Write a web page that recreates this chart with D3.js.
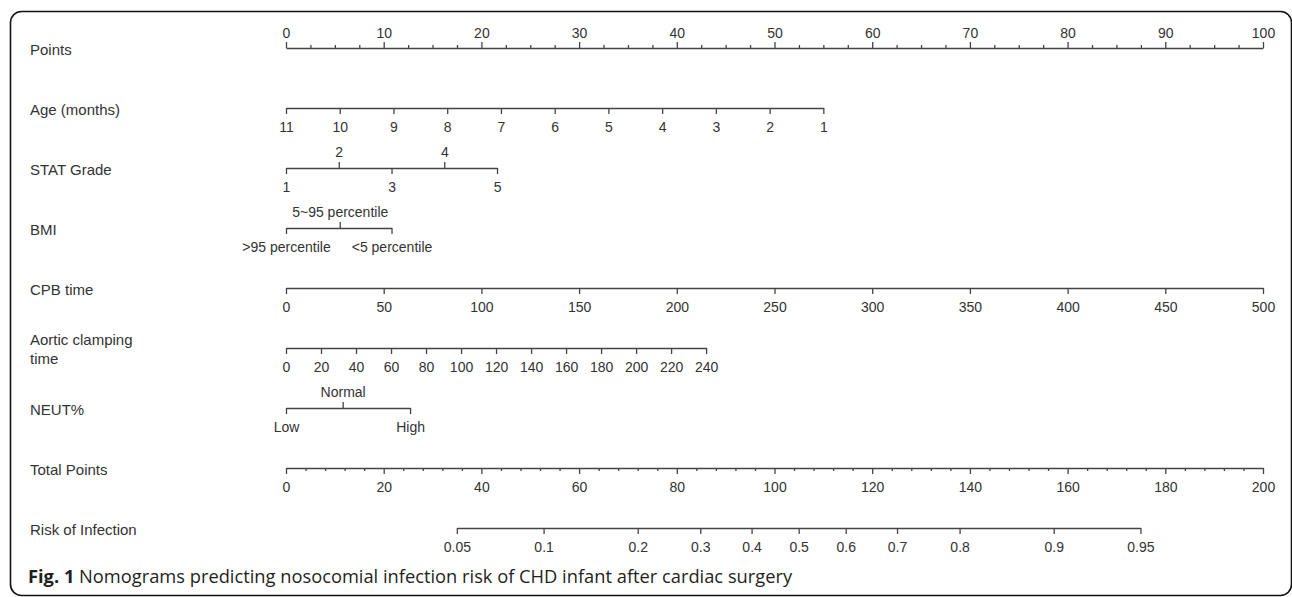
<!DOCTYPE html>
<html lang="en">
<head>
  <meta charset="UTF-8">
  <title>Nomogram</title>
  <style>
    body { margin: 0; background: #fff; }
    .row-label { font-family: 'Liberation Sans', Arial, sans-serif; font-size: 15px; fill: #333; }
    .caption { font-family: 'Open Sans', sans-serif; font-size: 18.3px; fill: #231f20; }
  </style>
</head>
<body>
  <svg width="1292" height="597"></svg>
  <script src="https://cdn.jsdelivr.net/npm/d3@7/dist/d3.min.js"></script>
  <script>
    // values
    var pointsTicks = [0, 10, 20, 30, 40, 50, 60, 70, 80, 90, 100]
    var pointsMinor = [2.5, 5, 7.5, 12.5, 15, 17.5, 22.5, 25, 27.5, 32.5, 35, 37.5, 42.5, 45, 47.5,
      52.5, 55, 57.5, 62.5, 65, 67.5, 72.5, 75, 77.5, 82.5, 85, 87.5, 92.5, 95, 97.5]
    var ageTicks = [11, 10, 9, 8, 7, 6, 5, 4, 3, 2, 1]
    var agePoints = [0, 55]
    var statTicks = [1, 2, 3, 4, 5]
    var statPoints = [0, 21.6]
    var bmiLabels = ['>95 percentile', '5~95 percentile', '<5 percentile']
    var bmiPoints = [0, 5.5, 10.8]
    var cpbTicks = [0, 50, 100, 150, 200, 250, 300, 350, 400, 450, 500]
    var cpbPoints = [0, 100]
    var aorticTicks = [0, 20, 40, 60, 80, 100, 120, 140, 160, 180, 200, 220, 240]
    var aorticPoints = [0, 43]
    var neutLabels = ['Low', 'Normal', 'High']
    var neutPoints = [0, 5.8, 12.7]
    var totalTicks = [0, 20, 40, 60, 80, 100, 120, 140, 160, 180, 200]
    var totalMinor = [4, 8, 12, 16, 24, 28, 32, 36, 44, 48, 52, 56, 64, 68, 72, 76, 84, 88, 92, 96,
      104, 108, 112, 116, 124, 128, 132, 136, 144, 148, 152, 156, 164, 168, 172, 176, 184, 188, 192, 196]
    var riskTicks = [0.05, 0.1, 0.2, 0.3, 0.4, 0.5, 0.6, 0.7, 0.8, 0.9, 0.95]
    // linear predictor = b0 + b1 * total points
    var b0 = -4.416
    var b1 = 0.04208

    var svg = d3.select('svg')

    // frame
    svg.append('rect')
      .attr('x', 10.5)
      .attr('y', 11.5)
      .attr('width', 1281)
      .attr('height', 584)
      .attr('rx', 11)
      .attr('fill', 'none')
      .attr('stroke', '#111')
      .attr('stroke-width', 1.6)

    var x = d3.scaleLinear().domain([0, 100]).range([286, 1263])
    var total = d3.scaleLinear().domain([0, 200]).range([286, 1263])
    var rowY = d3.scaleLinear().domain([0, 8]).range([48, 528])
    var intFmt = d3.format('d')

    function styleAxis(g) {
      g.selectAll('path, line').attr('stroke', '#444').attr('stroke-width', 1.3)
      g.selectAll('text')
        .attr('font-family', "'Liberation Sans', Arial, sans-serif")
        .attr('font-size', '14px')
        .attr('fill', '#333')
    }

    function addAxis(row, axis, keepDomain) {
      var g = svg.append('g')
        .attr('transform', 'translate(0,' + rowY(row) + ')')
        .call(axis)
      g.attr('font-size', null).attr('font-family', null)
      if (!keepDomain) g.select('.domain').remove()
      styleAxis(g)
      return g
    }

    function rowLabel(row, lines) {
      var t = svg.append('text')
        .attr('class', 'row-label')
        .attr('x', 30)
        .attr('y', rowY(row) + 7 - (lines.length - 1) * 10)
      lines.forEach(function(s, i) {
        t.append('tspan').attr('x', 30).attr('dy', i ? 19 : 0).text(s)
      })
    }

    function linearScale(domain, pts) {
      return d3.scaleLinear().domain(domain).range([x(pts[0]), x(pts[1])])
    }

    function catScale(labels, pts) {
      return d3.scaleOrdinal().domain(labels).range(pts.map(function(p) { return x(p) }))
    }

    // Points
    rowLabel(0, ['Points'])
    addAxis(0, d3.axisTop(x).tickValues(pointsTicks).tickSize(6).tickSizeOuter(0).tickPadding(4), true)
    addAxis(0, d3.axisTop(x).tickValues(pointsMinor).tickSize(3).tickFormat(''), false)

    // Age
    rowLabel(1, ['Age (months)'])
    var age = linearScale([11, 1], agePoints)
    addAxis(1, d3.axisBottom(age).tickValues(ageTicks).tickFormat(intFmt)
      .tickSize(6).tickSizeOuter(0).tickPadding(8), true)

    // STAT grade
    rowLabel(2, ['STAT Grade'])
    var stat = linearScale([1, 5], statPoints)
    addAxis(2, d3.axisBottom(stat).tickValues(statTicks.filter(function(d) { return d % 2 === 1 }))
      .tickFormat(intFmt).tickSize(6).tickSizeOuter(0).tickPadding(8), true)
    addAxis(2, d3.axisTop(stat).tickValues(statTicks.filter(function(d) { return d % 2 === 0 }))
      .tickFormat(intFmt).tickSize(6).tickPadding(5), false)

    // BMI
    rowLabel(3, ['BMI'])
    var bmi = catScale(bmiLabels, bmiPoints)
    addAxis(3, d3.axisBottom(bmi).tickValues([bmiLabels[0], bmiLabels[2]])
      .tickSize(6).tickSizeOuter(0).tickPadding(8), true)
    addAxis(3, d3.axisTop(bmi).tickValues([bmiLabels[1]]).tickSize(6).tickPadding(5), false)

    // CPB time
    rowLabel(4, ['CPB time'])
    var cpb = linearScale([0, 500], cpbPoints)
    addAxis(4, d3.axisBottom(cpb).tickValues(cpbTicks).tickFormat(intFmt)
      .tickSize(6).tickSizeOuter(0).tickPadding(8), true)

    // Aortic clamping time
    rowLabel(5, ['Aortic clamping', 'time'])
    var aortic = linearScale([0, 240], aorticPoints)
    addAxis(5, d3.axisBottom(aortic).tickValues(aorticTicks).tickFormat(intFmt)
      .tickSize(6).tickSizeOuter(0).tickPadding(8), true)

    // NEUT%
    rowLabel(6, ['NEUT%'])
    var neut = catScale(neutLabels, neutPoints)
    addAxis(6, d3.axisBottom(neut).tickValues([neutLabels[0], neutLabels[2]])
      .tickSize(6).tickSizeOuter(0).tickPadding(8), true)
    addAxis(6, d3.axisTop(neut).tickValues([neutLabels[1]]).tickSize(6).tickPadding(5), false)

    // Total points
    rowLabel(7, ['Total Points'])
    addAxis(7, d3.axisBottom(total).tickValues(totalTicks).tickFormat(intFmt)
      .tickSize(6).tickSizeOuter(0).tickPadding(8), true)
    addAxis(7, d3.axisBottom(total).tickValues(totalMinor).tickSize(3).tickFormat(''), false)

    // Risk of infection
    rowLabel(8, ['Risk of Infection'])
    var risk = d3.scaleOrdinal().domain(riskTicks).range(riskTicks.map(function(p) {
      return total((Math.log(p / (1 - p)) - b0) / b1)
    }))
    addAxis(8, d3.axisBottom(risk).tickValues(riskTicks).tickSize(6).tickSizeOuter(0).tickPadding(8), true)

    // caption
    var cap = svg.append('text')
      .attr('class', 'caption')
      .attr('x', 28)
      .attr('y', 583)
    cap.append('tspan').attr('font-weight', 'bold').text('Fig. 1')
    cap.append('tspan').text(' Nomograms predicting nosocomial infection risk of CHD infant after cardiac surgery')
  </script>
</body>
</html>
